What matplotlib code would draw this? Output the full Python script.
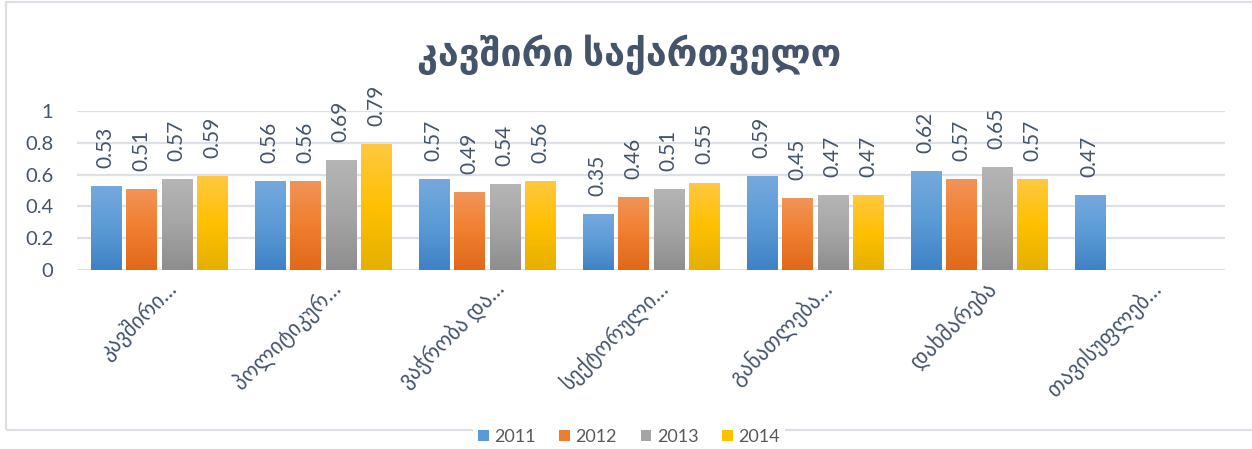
import numpy as np
import matplotlib
matplotlib.use("Agg")
import matplotlib.pyplot as plt
from matplotlib.patches import Rectangle
from matplotlib.transforms import ScaledTranslation
from matplotlib.colors import LinearSegmentedColormap

plt.rcParams['font.family'] = ['Lato', 'DejaVu Sans']

title = "კავშირი საქართველო"
categories = ["კავშირი…", "პოლიტიკურ…", "ვაჭრობა და…", "სექტორული…",
              "განათლება…", "დახმარება", "თავისუფლებ…"]
series_names = ["2011", "2012", "2013", "2014"]
v2011 = [0.53, 0.56, 0.57, 0.35, 0.59, 0.62, 0.47]
v2012 = [0.51, 0.56, 0.49, 0.46, 0.45, 0.57, np.nan]
v2013 = [0.57, 0.69, 0.54, 0.51, 0.47, 0.65, np.nan]
v2014 = [0.59, 0.79, 0.56, 0.55, 0.47, 0.57, np.nan]
yticks = [0, 0.2, 0.4, 0.6, 0.8, 1]
ytick_labels = ["0", "0.2", "0.4", "0.6", "0.8", "1"]

series = [v2011, v2012, v2013, v2014]
base_colors = ["#5B9BD5", "#ED7D31", "#A5A5A5", "#FFC000"]
grad_stops = [
    ("#75A9DE", "#5B9BD5", "#3F82C5"),
    ("#F19458", "#F07E2E", "#E0691C"),
    ("#B5B5B5", "#A5A5A5", "#8E8E8E"),
    ("#FFC840", "#FFC000", "#E5B000"),
]

W, H = 1252, 449
fig = plt.figure(figsize=(W / 100, H / 100), dpi=100)
ax = fig.add_axes([77 / W, (H - 270) / H, 1148 / W, 159 / H])

text_color = "#44546A"
x = np.arange(len(categories))
slot = 0.217
bw = 0.183
for i, (vals, col, stops) in enumerate(zip(series, base_colors, grad_stops)):
    pos = x + (i - 1.5) * slot
    bars = ax.bar(pos, vals, width=bw, color=col, label=series_names[i], zorder=2)
    cmap = LinearSegmentedColormap.from_list("g%d" % i, [stops[2], stops[1], stops[0]])
    grad = np.linspace(0, 1, 64).reshape(-1, 1)
    for b, v in zip(bars, vals):
        if np.isnan(v):
            continue
        x0, y0 = b.get_x(), b.get_y()
        im = ax.imshow(grad, cmap=cmap, origin="lower", aspect="auto",
                       extent=[x0, x0 + b.get_width(), y0, y0 + b.get_height()],
                       zorder=2.1)
        im.set_clip_path(b)
        ax.annotate(f"{v:.2f}", (b.get_x() + b.get_width() / 2, v),
                    xytext=(0, 13), textcoords="offset points",
                    rotation=90, ha="center", va="bottom",
                    fontsize=15, color=text_color)

ax.set_xlim(-0.5, len(categories) - 0.5)
ax.set_ylim(0, 1)
ax.set_yticks(yticks, ytick_labels)
ax.yaxis.grid(True, color="#DDE1E7", linewidth=1.6, zorder=0)
ax.set_axisbelow(True)
for s in ax.spines.values():
    s.set_visible(False)
ax.tick_params(axis="y", length=0, pad=17, labelsize=14.5, labelcolor=text_color)
ax.set_xticks(x, categories)
ax.tick_params(axis="x", length=0, pad=0, labelsize=15.5, labelcolor=text_color)
off = ScaledTranslation(0.19, -0.20, fig.dpi_scale_trans)
for lab in ax.get_xticklabels():
    lab.set_rotation(45)
    lab.set_ha("right")
    lab.set_va("baseline")
    lab.set_rotation_mode("anchor")
    lab.set_transform(lab.get_transform() + off)

fig.text(629 / W, 1 - 55 / H, title, ha="center", va="center",
         fontsize=27, color=text_color, fontweight="bold")

fig.add_artist(Rectangle((6 / W, 1 - 430 / H), 1.5, 428.5 / H,
                         transform=fig.transFigure, fill=False,
                         edgecolor="#DCE0E6", linewidth=1.6, zorder=0))

leg = fig.legend(loc="center", bbox_to_anchor=(629 / W, 1 - 437 / H), ncol=4,
                 frameon=True, fontsize=13, handlelength=0.6, handleheight=0.6,
                 handletextpad=0.3, columnspacing=1.3, borderpad=0.3,
                 labelcolor="#595959")
leg.get_frame().set_facecolor("white")
leg.get_frame().set_edgecolor("none")
leg.get_frame().set_alpha(1)
leg.set_zorder(5)

fig.savefig("out.png", dpi=100, facecolor="white")
